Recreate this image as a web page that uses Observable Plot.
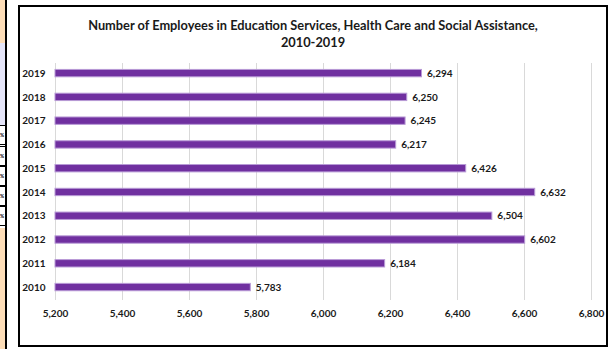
<!DOCTYPE html>
<html>
<head>
<meta charset="utf-8">
<script src="https://cdn.jsdelivr.net/npm/d3@7"></script>
<script src="https://cdn.jsdelivr.net/npm/@observablehq/plot@0.6"></script>
<style>
  html, body { margin: 0; padding: 0; background: #ffffff; }
  body { width: 616px; height: 349px; position: relative; overflow: hidden; font-family: Lato, "Open Sans", sans-serif; }
  .strip { position: absolute; left: 0; width: 5px; }
  .vline { position: absolute; left: 5px; top: 0; width: 2px; height: 349px; background: #000; }
  .cell { position: absolute; left: 0; width: 5px; height: 18px; background: #fff; border-top: 1px solid #000; border-bottom: 1px solid #000; overflow: hidden; font: bold 5px Lato, sans-serif; line-height: 18px; text-align: left; }
  #frame { position: absolute; left: 18px; top: 5px; width: 586px; height: 338px; border: 2px solid #000; background: #fff; }
  #title { position: absolute; left: 0; top: 10px; width: 100%; text-align: center; font: bold 12.8px Lato, sans-serif; line-height: 17px; color: #1a1a1a; }
  #chart { position: absolute; left: 0; top: 50px; }
</style>
</head>
<body>
<div class="strip" style="top:0;height:43px;background:#FDDDB7;"></div>
<div class="strip" style="top:43px;height:82px;background:#E4E4F8;"></div>
<div class="strip" style="top:228px;height:121px;background:#FDDDB7;"></div>
<div class="cell" style="top:125px">%</div>
<div class="cell" style="top:146px">%</div>
<div class="cell" style="top:166px">%</div>
<div class="cell" style="top:186px">%</div>
<div class="cell" style="top:206px">%</div>
<div class="vline"></div>
<div id="frame">
  <div id="title">Number of Employees in Education Services, Health Care and Social Assistance,<br>2010-2019</div>
  <div id="chart"></div>
</div>
<script>
const years = ["2010","2011","2012","2013","2014","2015","2016","2017","2018","2019"];
const employees = [5783, 6184, 6602, 6504, 6632, 6426, 6217, 6245, 6250, 6294];
const xTicks = [5200, 5400, 5600, 5800, 6000, 6200, 6400, 6600, 6800];

const data = years.map((y, i) => ({year: y, value: employees[i]}));
const fmt = d3.format(",");
const font = "Lato, 'Open Sans', sans-serif";

const chart = Plot.plot({
  width: 586,
  height: 282,
  marginLeft: 35,
  marginRight: 15,
  marginTop: 6,
  marginBottom: 39,
  style: {fontFamily: font, fontSize: "10px", fontWeight: "bold", color: "#1a1a1a", background: "transparent"},
  x: {domain: [5200, 6800], ticks: xTicks, tickFormat: fmt, label: null},
  y: {domain: years.slice().reverse(), paddingInner: 0.69, paddingOuter: 0.33, align: 0.41, round: false, label: null},
  marks: [
    Plot.gridX(xTicks, {stroke: "#d9d9d9", strokeOpacity: 1, strokeWidth: 1}),
    Plot.axisX({ticks: xTicks, tickFormat: fmt, tickSize: 0, tickPadding: 9, fontWeight: "bold", fontSize: 10}),
    Plot.axisY({tickSize: 0, tickPadding: 10, fontWeight: "bold", fontSize: 10, textAnchor: "end"}),
    Plot.barX(data, {x1: 5200, x2: "value", y: "year", fill: "#7030A0", stroke: "#B89AD6", strokeWidth: 1}),
    Plot.text(data, {x: "value", y: "year", text: d => fmt(d.value), dx: 5, textAnchor: "start", fontWeight: "bold", fontSize: 10, fill: "#1a1a1a"})
  ]
});
document.getElementById("chart").appendChild(chart);
</script>
</body>
</html>
